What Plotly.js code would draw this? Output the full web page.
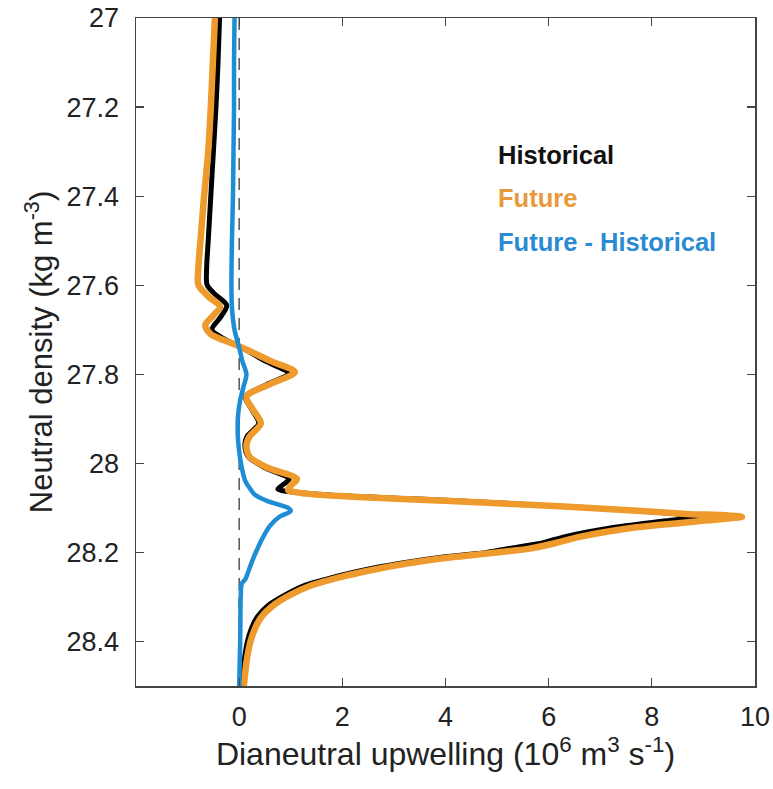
<!DOCTYPE html>
<html>
<head>
<meta charset="utf-8">
<script src="https://cdn.plot.ly/plotly-3.0.1.min.js"></script>
<style>html,body{margin:0;padding:0;background:#fff;}#chart{width:773px;height:789px;}</style>
</head>
<body>
<div id="chart"></div>
<script>
// Historical (black)
const histY = [27.0, 27.1, 27.2, 27.3, 27.4, 27.5, 27.56, 27.6, 27.62, 27.645, 27.67, 27.7, 27.72, 27.74, 27.77, 27.798, 27.825, 27.85, 27.88, 27.91, 27.94, 27.96, 27.985, 28.01, 28.035, 28.048, 28.058, 28.066, 28.073, 28.083, 28.095, 28.105, 28.114, 28.12, 28.13, 28.145, 28.165, 28.178, 28.19, 28.2, 28.21, 28.225, 28.24, 28.255, 28.275, 28.295, 28.32, 28.345, 28.37, 28.4, 28.44, 28.5];
const histX = [-0.38, -0.41, -0.45, -0.50, -0.55, -0.60, -0.63, -0.62, -0.47, -0.24, -0.35, -0.53, -0.30, 0.05, 0.50, 0.95, 0.50, 0.12, 0.25, 0.38, 0.15, 0.11, 0.18, 0.50, 0.97, 0.85, 0.75, 1.2, 2.0, 4.0, 6.0, 7.5, 8.5, 8.9, 8.2, 7.2, 6.3, 5.9, 5.3, 4.8, 4.0, 3.1, 2.4, 1.85, 1.25, 0.9, 0.55, 0.35, 0.24, 0.16, 0.10, 0.05];

// Future (orange)
const futY = [27.0, 27.1, 27.2, 27.3, 27.4, 27.5, 27.56, 27.6, 27.625, 27.648, 27.668, 27.69, 27.71, 27.73, 27.745, 27.77, 27.795, 27.822, 27.85, 27.88, 27.91, 27.94, 27.96, 27.985, 28.01, 28.035, 28.05, 28.06, 28.068, 28.075, 28.085, 28.097, 28.107, 28.113, 28.12, 28.128, 28.145, 28.165, 28.18, 28.192, 28.2, 28.21, 28.225, 28.24, 28.255, 28.275, 28.295, 28.32, 28.345, 28.37, 28.4, 28.44, 28.5];
const futX = [-0.47, -0.51, -0.55, -0.60, -0.68, -0.75, -0.79, -0.79, -0.60, -0.37, -0.50, -0.66, -0.55, -0.15, 0.15, 0.60, 1.08, 0.60, 0.14, 0.27, 0.42, 0.20, 0.14, 0.20, 0.55, 1.12, 1.0, 0.95, 1.3, 2.2, 4.2, 6.3, 7.8, 8.6, 9.75, 9.1, 7.6, 6.6, 6.1, 5.6, 5.0, 4.2, 3.25, 2.55, 1.98, 1.38, 1.0, 0.65, 0.43, 0.31, 0.22, 0.15, 0.09];

// Future - Historical (blue)
const diffY = [27.0, 27.1, 27.2, 27.3, 27.4, 27.5, 27.6, 27.65, 27.7, 27.74, 27.77, 27.8, 27.83, 27.858, 27.89, 27.92, 27.95, 27.99, 28.02, 28.04, 28.055, 28.07, 28.085, 28.1, 28.107, 28.12, 28.14, 28.173, 28.22, 28.26, 28.27, 28.3, 28.4, 28.5];
const diffX = [-0.09, -0.10, -0.10, -0.11, -0.12, -0.14, -0.15, -0.14, -0.09, 0.0, 0.06, 0.14, 0.08, 0.02, -0.02, -0.03, -0.02, 0.02, 0.07, 0.12, 0.20, 0.30, 0.55, 0.95, 1.0, 0.78, 0.60, 0.43, 0.25, 0.12, 0.05, 0.03, 0.02, 0.0];

// zero reference line
const refX = [0, 0];
const refY = [27.0, 28.5];

const seriesNames = ['Historical', 'Future', 'Future - Historical'];
const yTicks = [27, 27.2, 27.4, 27.6, 27.8, 28, 28.2, 28.4];
const yTickText = ['27', '27.2', '27.4', '27.6', '27.8', '28', '28.2', '28.4'];
const xTicks = [0, 2, 4, 6, 8, 10];
const xTickText = ['0', '2', '4', '6', '8', '10'];

const cBlack = '#000000', cOrange = '#EE9A2C', cBlue = '#1F8CD6';
const font = 'Liberation Sans, Arial, Helvetica, sans-serif';

const traces = [
  {x: refX, y: refY, mode: 'lines', line: {color: '#555', width: 1.5, dash: '12px,8px'}, hoverinfo: 'skip', showlegend: false},
  {x: histX, y: histY, mode: 'lines', name: seriesNames[0], line: {color: cBlack, width: 5, shape: 'spline', smoothing: 0.8}},
  {x: futX, y: futY, mode: 'lines', name: seriesNames[1], line: {color: cOrange, width: 6.5, shape: 'spline', smoothing: 0.8}},
  {x: diffX, y: diffY, mode: 'lines', name: seriesNames[2], line: {color: cBlue, width: 4.5, shape: 'spline', smoothing: 0.8}}
];

const axCommon = {
  showline: true, linecolor: '#444', linewidth: 1.5, mirror: 'ticks',
  ticks: 'inside', ticklen: 8, tickwidth: 1.2, tickcolor: '#444',
  showgrid: false, zeroline: false,
  tickfont: {family: font, size: 27, color: '#222'}
};

const layout = {
  width: 773, height: 789,
  margin: {l: 136, r: 18, t: 18, b: 103},
  paper_bgcolor: '#fff', plot_bgcolor: '#fff',
  showlegend: false,
  xaxis: Object.assign({}, axCommon, {
    range: [-2, 10], tickvals: xTicks, ticktext: xTickText, ticklabelstandoff: 6,
    title: {text: 'Dianeutral upwelling (10<sup>6</sup> m<sup>3</sup> s<sup>-1</sup>)', font: {family: font, size: 32, color: '#222'}, standoff: 0}
  }),
  yaxis: Object.assign({}, axCommon, {
    range: [28.5, 27], tickvals: yTicks, ticktext: yTickText, ticklabelstandoff: 10,
    title: {text: 'Neutral density (kg m<sup>-3</sup>)', font: {family: font, size: 31, color: '#222'}, standoff: 4}
  }),
  annotations: [
    {text: '<b>' + seriesNames[0] + '</b>', x: 0.582, y: 0.795, xref: 'paper', yref: 'paper', xanchor: 'left', yanchor: 'middle', showarrow: false, font: {family: font, size: 25.5, color: '#111'}},
    {text: '<b>' + seriesNames[1] + '</b>', x: 0.582, y: 0.73, xref: 'paper', yref: 'paper', xanchor: 'left', yanchor: 'middle', showarrow: false, font: {family: font, size: 25.5, color: '#E89A3A'}},
    {text: '<b>' + seriesNames[2] + '</b>', x: 0.582, y: 0.665, xref: 'paper', yref: 'paper', xanchor: 'left', yanchor: 'middle', showarrow: false, font: {family: font, size: 25.5, color: '#2A8BD2'}}
  ]
};

Plotly.newPlot('chart', traces, layout, {displayModeBar: false, staticPlot: true});
</script>
</body>
</html>
